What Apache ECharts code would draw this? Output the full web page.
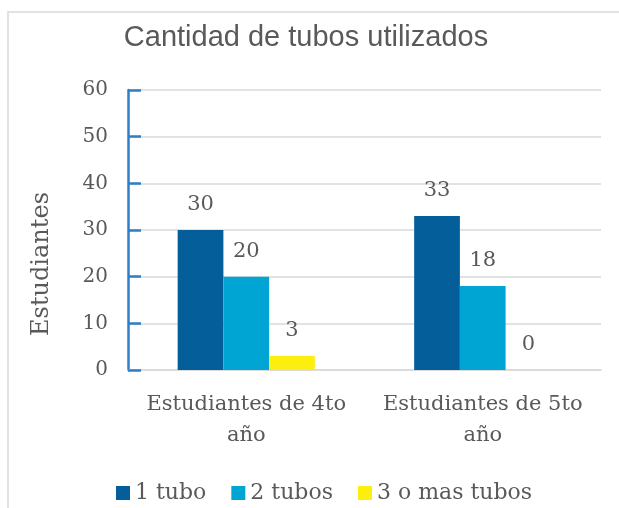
<!DOCTYPE html>
<html>
<head>
<meta charset="utf-8">
<script src="https://cdn.jsdelivr.net/npm/echarts@6/dist/echarts.min.js"></script>
<style>
  html, body { margin: 0; padding: 0; background: #fff; }
  #chart { width: 619px; height: 508px; }
</style>
</head>
<body>
<div id="chart"></div>
<script>
const categories = ['Estudiantes de 4to año', 'Estudiantes de 5to año'];
const seriesNames = ['1 tubo', '2 tubos', '3 o mas tubos'];
const unTubo = [30, 33];
const dosTubos = [20, 18];
const tresOMas = [3, 0];
const colors = ['#035e9a', '#00a5d3', '#fcee0e'];

const serif = 'DejaVu Serif';
const gray = '#595959';

const chart = echarts.init(document.getElementById('chart'), null, { renderer: 'canvas' });

function barSeries(name, data, color) {
  return {
    name: name,
    type: 'bar',
    data: data,
    barGap: '0%',
    barCategoryGap: '42%',
    itemStyle: { color: color },
    label: {
      show: true,
      position: 'top',
      distance: 15,
      fontFamily: serif,
      fontSize: 21,
      color: gray
    }
  };
}

chart.setOption({
  animation: false,
  backgroundColor: '#fff',
  color: colors,
  graphic: [{
    type: 'rect',
    shape: { x: 8, y: 12, width: 700, height: 600 },
    style: { fill: 'none', stroke: '#d9d9d9', lineWidth: 1.5 },
    silent: true
  }],
  title: {
    text: 'Cantidad de tubos utilizados',
    left: 301,
    textAlign: 'center',
    top: 18,
    textStyle: {
      fontFamily: 'Liberation Sans',
      fontWeight: 'normal',
      fontSize: 29,
      color: gray
    }
  },
  legend: {
    data: seriesNames,
    left: 111,
    top: 477,
    icon: 'rect',
    itemWidth: 14,
    itemHeight: 14,
    itemGap: 25,
    textStyle: { fontFamily: serif, fontSize: 22, color: gray }
  },
  grid: { left: 128, right: 18, top: 90, bottom: 138 },
  xAxis: {
    type: 'category',
    data: categories,
    axisLine: { lineStyle: { color: '#d9d9d9', width: 1.5 } },
    axisTick: { show: false },
    axisLabel: {
      interval: 0,
      hideOverlap: false,
      fontFamily: serif,
      fontSize: 21,
      color: gray,
      margin: 19,
      lineHeight: 31,
      formatter: v => v.replace(' año', '\naño')
    }
  },
  yAxis: {
    type: 'value',
    min: 0,
    max: 60,
    interval: 10,
    name: 'Estudiantes',
    nameLocation: 'middle',
    nameGap: 74,
    nameTextStyle: { fontFamily: serif, fontSize: 24, color: gray, padding: [0, 68, 0, 0] },
    axisLine: { show: true, lineStyle: { color: '#2e7fc6', width: 2.5 } },
    axisTick: { show: true, inside: true, length: 13, lineStyle: { color: '#2e7fc6', width: 2.5 } },
    axisLabel: { fontFamily: serif, fontSize: 20, color: gray, margin: 20 },
    splitLine: { lineStyle: { color: '#d9d9d9', width: 1.5 } }
  },
  series: [
    barSeries(seriesNames[0], unTubo, colors[0]),
    barSeries(seriesNames[1], dosTubos, colors[1]),
    barSeries(seriesNames[2], tresOMas, colors[2])
  ]
});

window.addEventListener('resize', () => chart.resize());
</script>
</body>
</html>
